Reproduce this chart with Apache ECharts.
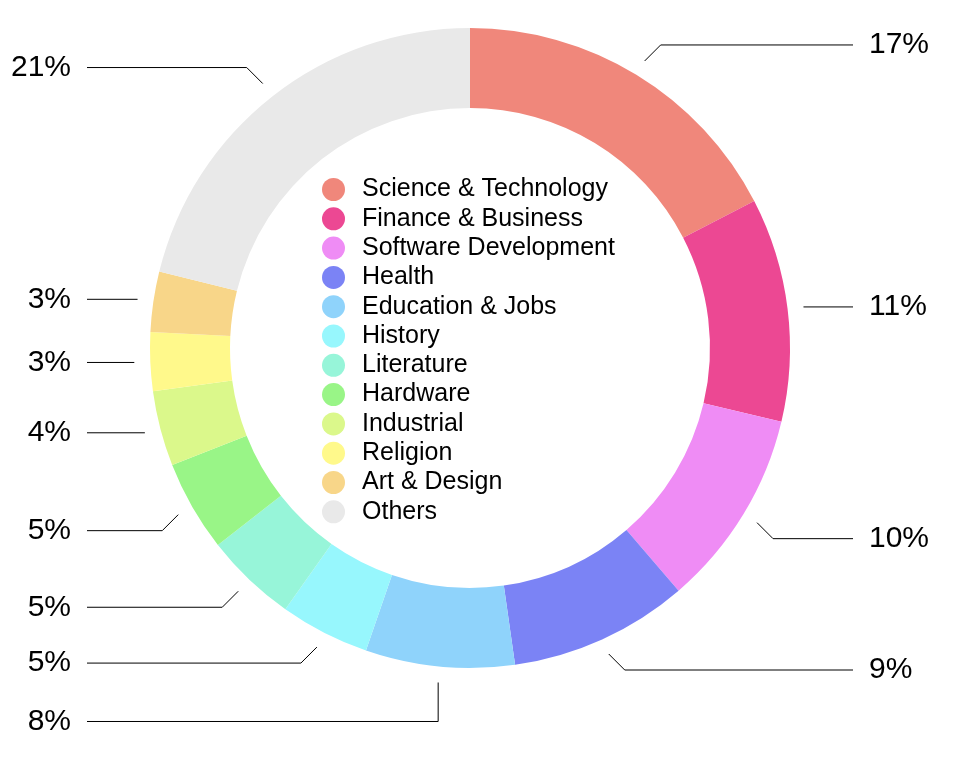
<!DOCTYPE html>
<html>
<head>
<meta charset="utf-8">
<script src="https://cdn.jsdelivr.net/npm/echarts@6/dist/echarts.min.js"></script>
<style>
html,body{margin:0;padding:0;background:#fff;}
#chart{width:974px;height:762px;}
</style>
</head>
<body>
<div id="chart"></div>
<script>
const categories = ['Science & Technology','Finance & Business','Software Development','Health','Education & Jobs','History','Literature','Hardware','Industrial','Religion','Art & Design','Others'];
const values = [17.4, 11.3, 10.0, 9.05, 7.52, 4.52, 4.65, 4.6, 3.8, 2.95, 3.05, 21.16];
const colors = ['#F0877B','#EC4893','#EF8CF5','#7B83F5','#8FD3FB','#97F7FD','#97F5D9','#99F587','#DBF88B','#FFF98B','#F8D689','#E9E9E9'];

const FONT = '"Liberation Sans", Arial, Helvetica, sans-serif';
const CX = 470, CY = 348;
const LINE_END = 383;      // horizontal distance from centre to the end of label lines
const LABEL_GAP = 16;      // gap between line end and label text
const DIAG = 16;           // 45-degree elbow size
const VERT = 39;           // vertical elbow for near-vertical slices

const pieData = categories.map((n, i) => ({ name: n, value: values[i] }));

function layoutLabel(params) {
  const pts = params.labelLinePoints;
  if (!pts) return {};
  const p0 = pts[0];
  const dx = p0[0] - CX, dy = p0[1] - CY;
  const left = dx < 0;
  const ang = Math.atan2(Math.abs(dy), Math.abs(dx)) * 180 / Math.PI;
  let p1;
  if (ang < 20) p1 = [p0[0], p0[1]];
  else if (ang > 80) p1 = [p0[0], p0[1] + Math.sign(dy) * VERT];
  else p1 = [p0[0] + Math.sign(dx) * DIAG, p0[1] + Math.sign(dy) * DIAG];
  const endX = left ? CX - LINE_END : CX + LINE_END;
  return {
    x: left ? endX - LABEL_GAP : endX + LABEL_GAP,
    y: p1[1],
    align: left ? 'right' : 'left',
    verticalAlign: 'middle',
    labelLinePoints: [p0, p1, [endX, p1[1]]]
  };
}

const chart = echarts.init(document.getElementById('chart'), null, { renderer: 'canvas' });
chart.setOption({
  animation: false,
  color: colors,
  legend: {
    orient: 'vertical',
    left: 317,
    top: 172,
    icon: 'circle',
    itemWidth: 47,
    itemHeight: 23,
    itemGap: 4.3,
    selectedMode: false,
    data: categories,
    textStyle: { fontFamily: FONT, fontSize: 25, color: '#000' }
  },
  series: [
    {
      type: 'pie',
      center: [CX, CY],
      radius: [240, 320],
      startAngle: 90,
      clockwise: true,
      silent: true,
      data: pieData,
      label: { show: false },
      labelLine: { show: false }
    },
    {
      type: 'pie',
      center: [CX, CY],
      radius: [320, 336],
      startAngle: 90,
      clockwise: true,
      silent: true,
      data: pieData,
      itemStyle: { color: 'rgba(0,0,0,0)' },
      label: {
        show: true,
        position: 'outside',
        fontFamily: FONT,
        fontSize: 30,
        color: '#000',
        formatter: p => Math.round(p.percent) + '%'
      },
      labelLine: {
        show: true,
        length: 20,
        length2: 20,
        lineStyle: { color: '#000', width: 1 }
      },
      labelLayout: layoutLabel
    }
  ]
});
</script>
</body>
</html>
